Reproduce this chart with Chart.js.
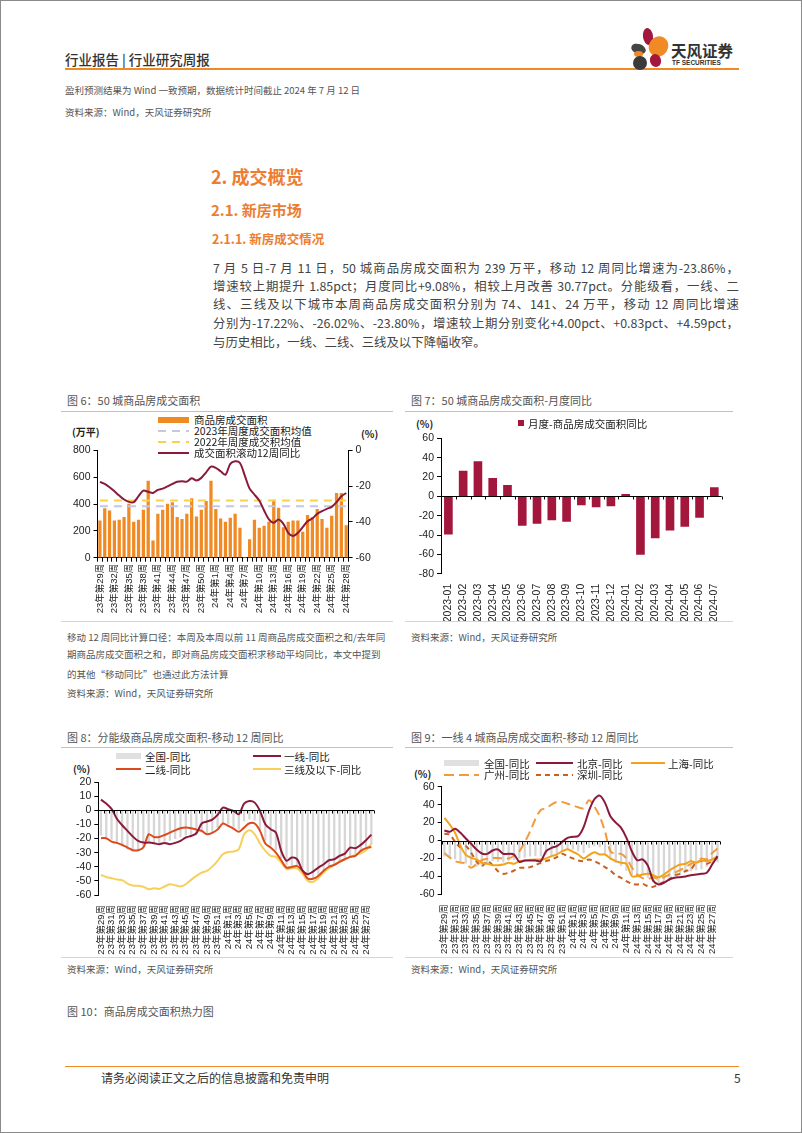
<!DOCTYPE html>
<html><head><meta charset="utf-8">
<script src="https://cdn.jsdelivr.net/npm/chart.js@4.4.1/dist/chart.umd.min.js"></script>
<style>
html,body{margin:0;padding:0}
body{width:802px;height:1133px;position:relative;background:#fff;overflow:hidden;font-family:"Noto Sans CJK SC","Noto Sans",sans-serif;box-sizing:border-box;border:1px solid #8a8a8a}
.t{position:absolute;white-space:nowrap}
.hl{position:absolute}
canvas{position:absolute}
.pl{position:absolute;left:212px;width:526px;font-size:12.4px;line-height:18px;color:#444;white-space:nowrap;text-align:justify;text-align-last:justify}
.petal{position:absolute;border-radius:50%}
</style></head>
<body>
<!-- header -->
<div class="t" style="left:64px;top:49px;font-size:13.5px;line-height:18px;font-weight:500;color:#333">行业报告 | 行业研究周报</div>
<div class="hl" style="left:64px;top:67px;width:674px;height:2px;background:#f08a24"></div>
<div class="petal" style="left:642px;top:27px;width:10px;height:17px;background:#a3173c;transform:rotate(-8deg)"></div>
<div class="petal" style="left:648px;top:35px;width:19px;height:21px;background:#f08a24;transform:rotate(35deg)"></div>
<div class="petal" style="left:630px;top:43px;width:15px;height:10px;background:#454545;transform:rotate(20deg)"></div>
<div class="petal" style="left:633px;top:50px;width:9px;height:6px;background:#f08a24"></div>
<div class="petal" style="left:632px;top:55px;width:14px;height:14px;background:#3a3a3a"></div>
<div class="petal" style="left:649px;top:53px;width:11px;height:13px;background:#a3173c;transform:rotate(-20deg)"></div>
<div class="t" style="left:670px;top:40px;font-size:15.5px;line-height:18px;font-weight:700;color:#333">天风证券</div>
<div class="t" style="left:671px;top:58px;font-size:6.5px;line-height:8px;font-weight:700;color:#333;font-family:'Liberation Sans',sans-serif">TF SECURITIES</div>
<div class="t" style="left:64px;top:82px;font-size:9.5px;line-height:14px;color:#555">盈利预测结果为 Wind 一致预期，数据统计时间截止 2024 年 7 月 12 日</div>
<div class="t" style="left:64px;top:104px;font-size:9.5px;line-height:14px;color:#555">资料来源：Wind，天风证券研究所</div>

<!-- headings -->
<div class="t" style="left:210px;top:163px;font-size:18px;line-height:24px;font-weight:700;color:#ed7d31">2. 成交概览</div>
<div class="t" style="left:210px;top:199px;font-size:15px;line-height:20px;font-weight:700;color:#ed7d31">2.1. 新房市场</div>
<div class="t" style="left:211px;top:230px;font-size:12.5px;line-height:16px;font-weight:700;color:#ed7d31">2.1.1. 新房成交情况</div>
<div class="pl" style="top:258px">7 月 5 日-7 月 11 日，50 城商品房成交面积为 239 万平，移动 12 周同比增速为-23.86%，</div>
<div class="pl" style="top:276px">增速较上期提升 1.85pct；月度同比+9.08%，相较上月改善 30.77pct。分能级看，一线、二</div>
<div class="pl" style="top:294px">线、三线及以下城市本周商品房成交面积分别为 74、141、24 万平，移动 12 周同比增速</div>
<div class="pl" style="top:313px">分别为-17.22%、-26.02%、-23.80%，增速较上期分别变化+4.00pct、+0.83pct、+4.59pct，</div>
<div class="pl" style="top:332px;text-align-last:left">与历史相比，一线、二线、三线及以下降幅收窄。</div>

<!-- chart titles -->
<div class="t" style="left:66px;top:392px;font-size:11px;line-height:15px;color:#555">图 6：50 城商品房成交面积</div>
<div class="hl" style="left:60px;top:410px;width:332px;height:1px;background:#f4b183"></div>
<div class="t" style="left:410px;top:392px;font-size:11px;line-height:15px;color:#555">图 7：50 城商品房成交面积-月度同比</div>
<div class="hl" style="left:404px;top:410px;width:328px;height:1px;background:#f4b183"></div>
<div class="t" style="left:66px;top:729px;font-size:11px;line-height:15px;color:#555">图 8：分能级商品房成交面积-移动 12 周同比</div>
<div class="hl" style="left:60px;top:746px;width:332px;height:1px;background:#f4b183"></div>
<div class="t" style="left:410px;top:729px;font-size:11px;line-height:15px;color:#555">图 9：一线 4 城商品房成交面积-移动 12 周同比</div>
<div class="hl" style="left:404px;top:746px;width:328px;height:1px;background:#f4b183"></div>

<div class="hl" style="left:60px;top:620px;width:332px;height:1px;background:#f8cbad"></div>
<div class="hl" style="left:404px;top:620px;width:328px;height:1px;background:#f8cbad"></div>
<div class="hl" style="left:60px;top:956px;width:332px;height:1px;background:#f8cbad"></div>
<div class="hl" style="left:404px;top:956px;width:328px;height:1px;background:#f8cbad"></div>

<!-- axis unit labels -->
<div class="t" style="left:71px;top:424px;font-size:10px;line-height:14px;font-weight:700;color:#222">(万平)</div>
<div class="t" style="left:360px;top:426px;font-size:10px;line-height:14px;font-weight:700;color:#222">(%)</div>
<div class="t" style="left:415px;top:416px;font-size:10px;line-height:14px;font-weight:700;color:#222">(%)</div>
<div class="t" style="left:72px;top:761px;font-size:10px;line-height:14px;font-weight:700;color:#222">(%)</div>
<div class="t" style="left:413px;top:766px;font-size:10px;line-height:14px;font-weight:700;color:#222">(%)</div>

<canvas id="c6" width="330" height="185" style="left:56px;top:440px"></canvas>
<canvas id="c7" width="330" height="195" style="left:400px;top:425px"></canvas>
<canvas id="c8" width="330" height="190" style="left:56px;top:770px"></canvas>
<canvas id="c9" width="330" height="185" style="left:400px;top:775px"></canvas>
<div id="legends"></div>

<!-- notes -->
<div class="t" style="left:66px;top:629px;font-size:9.5px;line-height:14px;color:#555">移动 12 周同比计算口径：本周及本周以前 11 周商品房成交面积之和/去年同</div>
<div class="t" style="left:66px;top:646px;font-size:9.5px;line-height:14px;color:#555">期商品房成交面积之和，即对商品房成交面积求移动平均同比，本文中提到</div>
<div class="t" style="left:66px;top:666px;font-size:9.5px;line-height:14px;color:#555">的其他“移动同比”也通过此方法计算</div>
<div class="t" style="left:66px;top:685px;font-size:9.5px;line-height:14px;color:#555">资料来源：Wind，天风证券研究所</div>
<div class="t" style="left:410px;top:629px;font-size:9.5px;line-height:14px;color:#555">资料来源：Wind，天风证券研究所</div>
<div class="t" style="left:66px;top:961px;font-size:9.5px;line-height:14px;color:#555">资料来源：Wind，天风证券研究所</div>
<div class="t" style="left:410px;top:961px;font-size:9.5px;line-height:14px;color:#555">资料来源：Wind，天风证券研究所</div>
<div class="t" style="left:66px;top:1003px;font-size:11px;line-height:15px;color:#555">图 10：商品房成交面积热力图</div>

<!-- footer -->
<div class="hl" style="left:64px;top:1065px;width:674px;height:1px;background:#f08a24"></div>
<div class="t" style="left:100px;top:1069px;font-size:12px;line-height:16px;color:#333">请务必阅读正文之后的信息披露和免责申明</div>
<div class="t" style="left:733px;top:1069px;font-size:12px;line-height:16px;color:#333">5</div>

<script>
// ---------- DATA ----------
const weekLabels = ['23年第29周','23年第30周','23年第31周','23年第32周','23年第33周','23年第34周','23年第35周','23年第36周','23年第37周','23年第38周','23年第39周','23年第40周','23年第41周','23年第42周','23年第43周','23年第44周','23年第45周','23年第46周','23年第47周','23年第48周','23年第49周','23年第50周','23年第51周','23年第52周','24年第1周','24年第2周','24年第3周','24年第4周','24年第5周','24年第6周','24年第7周','24年第8周','24年第9周','24年第10周','24年第11周','24年第12周','24年第13周','24年第14周','24年第15周','24年第16周','24年第17周','24年第18周','24年第19周','24年第20周','24年第21周','24年第22周','24年第23周','24年第24周','24年第25周','24年第26周','24年第27周','24年第28周'];
const weeklyArea = [275,365,350,275,280,300,400,265,280,355,570,125,325,355,400,410,300,285,325,440,305,355,420,570,360,290,265,295,325,220,0,135,280,220,235,265,430,370,225,265,275,275,190,315,300,360,285,220,310,480,480,239];
const avg2023 = 383;
const avg2022 = 427;
const nationalYoY = [-17.6,-18.8,-20.6,-22.9,-25.3,-27.5,-28.8,-29.0,-25.6,-22.5,-23.2,-23.8,-22.1,-21.4,-20.1,-18.8,-17.6,-17.3,-17.5,-15.6,-16.9,-15.4,-12.3,-9.1,-9.8,-11.7,-13.6,-7.6,-6.1,-7.1,-14.1,-21.4,-24.7,-28.1,-33.6,-38.6,-40.5,-38.6,-41.1,-46.1,-47.9,-46.1,-42.9,-39.6,-38.1,-35.5,-34.0,-32.7,-31.6,-29.0,-25.7,-23.86];
const monthLabels = ['2023-01','2023-02','2023-03','2023-04','2023-05','2023-06','2023-07','2023-08','2023-09','2023-10','2023-11','2023-12','2024-01','2024-02','2024-03','2024-04','2024-05','2024-06','2024-07'];
const monthlyYoY = [-39,26,36,18.6,11.4,-30,-28,-24.5,-26,-9,-11,-10,2.1,-60,-43,-35,-31,-21.69,9.08];
const tier1YoY = [7.5,4.7,1.0,-6.0,-10.6,-14.6,-18.6,-21.7,-22.9,-22.9,-23.3,-24.0,-23.1,-24.0,-23.1,-21.7,-19.3,-18.2,-16.3,-9.4,-8.0,-6.6,-3.3,1.9,0.7,-0.5,-2.8,4.7,6.6,5.4,-0.5,-9.9,-13.4,-15.8,-28.8,-35.8,-33.5,-34.7,-42.5,-45.3,-43.4,-40.6,-38.2,-35.4,-34.7,-32.3,-30.7,-26.4,-26.9,-24.5,-21.22,-17.22];
const tier2YoY = [-19.8,-19.8,-22.2,-23.1,-24.5,-26.4,-28.3,-28.3,-26.4,-17.0,-18.9,-18.9,-17.5,-15.8,-14.2,-12.7,-12.3,-12.7,-13.7,-14.6,-17.0,-16.0,-13.7,-9.4,-11.1,-13.0,-15.3,-12.3,-9.2,-9.4,-14.6,-23.6,-26.4,-30.0,-35.4,-40.6,-40.1,-39.6,-42.9,-48.3,-48.5,-46.5,-42.9,-40.0,-38.7,-36.6,-34.7,-33.0,-32.3,-28.8,-26.85,-26.02];
const tier3YoY = [-45.8,-47.2,-48.1,-49.0,-49.5,-51.9,-53.3,-53.5,-54.2,-55.9,-55.2,-55.7,-54.0,-52.4,-53.1,-54.0,-52.4,-49.3,-46.5,-44.1,-42.9,-39.9,-35.8,-31.1,-29.5,-29.2,-27.6,-17.0,-14.2,-17.0,-23.6,-28.8,-32.3,-33.0,-37.0,-41.7,-41.0,-41.3,-44.8,-50.0,-50.7,-48.1,-44.1,-41.0,-38.7,-36.3,-34.7,-33.0,-31.6,-30.5,-28.39,-23.80];
const beijingYoY = [11.2,9.7,13.0,8.6,2.2,-3.7,-10.0,-14.5,-14.9,-11.2,-10.0,-14.9,-14.9,-15.6,-23.8,-22.3,-22.3,-22.3,-23.0,-11.9,-8.2,-6.3,-1.5,3.0,4.1,5.0,15.0,33.0,46.0,50.0,42.0,27.0,20.0,14.0,3.0,-12.0,-22.0,-21.0,-28.0,-45.0,-49.0,-47.2,-43.5,-41.6,-40.9,-40.1,-38.7,-37.9,-37.2,-36.0,-26.8,-17.5];
const shanghaiYoY = [25.3,17.8,8.6,-6.0,-16.0,-19.3,-21.2,-24.9,-26.0,-27.5,-27.5,-26.8,-24.9,-26.0,-23.0,-22.3,-21.6,-21.2,-21.2,-20.0,-17.5,-15.6,-11.9,-9.7,-12.6,-15.6,-20.0,-16.4,-13.0,-15.6,-15.6,-20.0,-23.0,-24.9,-26.0,-39.8,-39.8,-37.9,-37.2,-38.7,-40.9,-37.9,-33.5,-29.7,-26.8,-26.0,-23.0,-24.9,-22.3,-23.0,-21.2,-17.5];
const guangzhouYoY = [-14,-19,-23,-24.5,-25.5,-30.5,-26,-22,-20.5,-19.5,-19.5,-20,-20,-17,-12,-2,10,24,34,36,40,43,43,41,39,37,36,45,38,27,10,-12,-15,-15,-20,-30,-38,-42,-43,-41,-43,-41,-38,-36,-33,-30,-26,-24,-20,-21,-14,-9];
const shenzhenYoY = [7.4,6.7,-1.5,-7.4,-6.3,-13.7,-23.0,-28.6,-23.0,-27.5,-34.2,-37.2,-36.0,-33.5,-30.5,-30.5,-29.7,-27.5,-24.9,-23.0,-21.2,-18.6,-14.9,-17.5,-20.0,-22.3,-23.0,-21.2,-23.0,-26.0,-29.7,-33.5,-38.7,-41.6,-45.4,-48.3,-49.0,-48.3,-50.9,-51.7,-49.0,-46.1,-43.5,-38.7,-37.2,-34.2,-32.3,-24.9,-23.0,-26.0,-23.0,-19.3];

// ---------- STYLE ----------
const C = {orange:'#f08a24', maroon:'#8b1a3a', crimson:'#a3173c', lav:'#c4c8e4', yellow:'#f8d347', red2:'#dc4a1e', yel3:'#f7d05c', gray:'#d6d6d6', sh:'#f5a21b', gz:'#f39a3c', sz:'#c8601e'};
Chart.defaults.font.family = '"Liberation Sans","Noto Sans CJK SC",sans-serif';
Chart.defaults.color = '#222';
Chart.defaults.animation = false;
Chart.defaults.responsive = false;
Chart.defaults.plugins.legend.display = false;
Chart.defaults.plugins.tooltip.enabled = false;
Chart.defaults.elements.point.radius = 0;

function yAxis(min, max, step, width, pos){
  return {position: pos || 'left', min, max,
    ticks:{stepSize:step, autoSkip:false, font:{size:10.5}, color:'#222', padding:3},
    grid:{drawOnChartArea:false, drawTicks:true, tickLength:4, color:'#000', tickColor:'#000'},
    border:{display:true, color:'#000', width:1},
    afterFit(s){ s.width = width; }};
}
function xAxis(labels, every, height, fontSize, opts){
  return Object.assign({
    ticks:{autoSkip:false, minRotation:90, maxRotation:90, font:{size:fontSize}, color:'#222', padding:2,
      callback(v, i){ return i % every === 0 ? labels[i] : ''; }},
    grid:{drawOnChartArea:false, drawTicks:true, tickLength:4, color:'#000', offset:true},
    border:{display:true, color:'#000'},
    afterFit(s){ s.height = height; }}, opts || {});
}
const zeroLine = {
  id:'zeroLine',
  afterDatasetsDraw(chart, args, o){
    if(!o || !o.on) return;
    const xs = chart.scales.x, ys = chart.scales.y, ctx = chart.ctx;
    const y0 = Math.round(ys.getPixelForValue(0)) + 0.5;
    const n = xs.ticks.length, w = (xs.right - xs.left) / n;
    ctx.save(); ctx.strokeStyle = '#000'; ctx.lineWidth = 1; ctx.beginPath();
    ctx.moveTo(xs.left, y0); ctx.lineTo(xs.right, y0);
    for(let i = 0; i <= n; i++){ const px = Math.round(xs.getPixelForValue(0) - w/2 + i*w) + 0.5; ctx.moveTo(px, y0); ctx.lineTo(px, y0 + o.len); }
    ctx.stroke(); ctx.restore();
  }
};
Chart.register(zeroLine);

// ---------- Chart 6 ----------
new Chart(document.getElementById('c6'), {
  type:'bar',
  data:{labels:weekLabels, datasets:[
    {type:'line', label:'成交面积滚动12周同比', data:nationalYoY, yAxisID:'y1', borderColor:C.maroon, borderWidth:2, tension:0.3, order:1},
    {type:'line', label:'2022年周度成交积均值', data:weekLabels.map(() => avg2022), borderColor:C.yellow, borderWidth:2, borderDash:[8,6], order:2},
    {type:'line', label:'2023年周度成交面积均值', data:weekLabels.map(() => avg2023), borderColor:C.lav, borderWidth:2, borderDash:[8,6], order:3},
    {type:'bar', label:'商品房成交面积', data:weeklyArea, backgroundColor:C.orange, barThickness:2.6, order:4}
  ]},
  options:{layout:{padding:{top:9, right:0, left:0, bottom:0}},
    scales:{x:xAxis(weekLabels, 3, 68.3, 9.5), y:yAxis(0, 800, 200, 40.5), y1:yAxis(-60, 0, 20, 38.4, 'right')}}
});

// ---------- Chart 7 ----------
new Chart(document.getElementById('c7'), {
  type:'bar',
  data:{labels:monthLabels, datasets:[{label:'月度-商品房成交面积同比', data:monthlyYoY, backgroundColor:C.crimson, barThickness:8}]},
  options:{layout:{padding:{top:12.3, right:9.3, left:0, bottom:0}},
    plugins:{zeroLine:{on:true, len:3}},
    scales:{x:xAxis(monthLabels, 1, 47.3, 10.5, {grid:{display:false}, border:{display:false}}), y:yAxis(-80, 60, 20, 40)}}
});

// ---------- Chart 8 ----------
new Chart(document.getElementById('c8'), {
  type:'bar',
  data:{labels:weekLabels, datasets:[
    {type:'line', label:'一线-同比', data:tier1YoY, borderColor:C.maroon, borderWidth:2, tension:0.3, order:1},
    {type:'line', label:'二线-同比', data:tier2YoY, borderColor:C.red2, borderWidth:2, tension:0.3, order:2},
    {type:'line', label:'三线及以下-同比', data:tier3YoY, borderColor:C.yel3, borderWidth:2, tension:0.3, order:3},
    {type:'bar', label:'全国-同比', data:nationalYoY, backgroundColor:C.gray, barThickness:1.6, order:10}
  ]},
  options:{layout:{padding:{top:11, right:13, left:0, bottom:0}},
    plugins:{zeroLine:{on:true, len:3}},
    scales:{x:xAxis(weekLabels, 2, 66, 9.5, {grid:{display:false}, border:{display:false}}), y:yAxis(-60, 20, 10, 41.3)}}
});

// ---------- Chart 9 ----------
new Chart(document.getElementById('c9'), {
  type:'bar',
  data:{labels:weekLabels, datasets:[
    {type:'line', label:'北京-同比', data:beijingYoY, borderColor:C.maroon, borderWidth:2, tension:0.3, order:1},
    {type:'line', label:'上海-同比', data:shanghaiYoY, borderColor:C.sh, borderWidth:2, tension:0.3, order:2},
    {type:'line', label:'广州-同比', data:guangzhouYoY, borderColor:C.gz, borderWidth:2, borderDash:[9,5], tension:0.3, order:3},
    {type:'line', label:'深圳-同比', data:shenzhenYoY, borderColor:C.sz, borderWidth:2, borderDash:[5,4], tension:0.3, order:4},
    {type:'bar', label:'全国-同比', data:nationalYoY, backgroundColor:C.gray, barThickness:1.6, order:10}
  ]},
  options:{layout:{padding:{top:10.7, right:10, left:0, bottom:0}},
    plugins:{zeroLine:{on:true, len:3}},
    scales:{x:xAxis(weekLabels, 2, 66.7, 9.5, {grid:{display:false}, border:{display:false}}), y:yAxis(-60, 60, 20, 40.7)}}
});

// ---------- HTML legends ----------
const L = document.getElementById('legends');
function legend(x, y, w, kind, color, text, dash, tx){
  let sw;
  if(kind === 'rect'){
    sw = document.createElement('div');
    sw.style.cssText = `position:absolute;left:${x}px;top:${y-3}px;width:${w}px;height:6px;background:${color}`;
  } else if(kind === 'sq'){
    sw = document.createElement('div');
    sw.style.cssText = `position:absolute;left:${x}px;top:${y-3}px;width:6px;height:6px;background:${color}`;
  } else {
    sw = document.createElementNS('http://www.w3.org/2000/svg','svg');
    sw.setAttribute('width', w); sw.setAttribute('height', 4);
    sw.style.cssText = `position:absolute;left:${x}px;top:${y-2}px`;
    sw.innerHTML = `<line x1="0" y1="2" x2="${w}" y2="2" stroke="${color}" stroke-width="2" ${dash ? `stroke-dasharray="${dash}"` : ''}/>`;
  }
  L.appendChild(sw);
  const t = document.createElement('div');
  t.className = 't';
  t.style.cssText += `left:${tx}px;top:${y-7.5}px;font-size:10.5px;line-height:15px;color:#222`;
  t.textContent = text;
  L.appendChild(t);
}
legend(157, 418.5, 31, 'rect', C.orange, '商品房成交面积', null, 193);
legend(157, 429.5, 31, 'line', C.lav, '2023年周度成交面积均值', '8,6', 193);
legend(157, 440.5, 31, 'line', C.yellow, '2022年周度成交积均值', '8,6', 193);
legend(157, 451.5, 31, 'line', C.maroon, '成交面积滚动12周同比', null, 193);

legend(517, 422, 6, 'sq', C.crimson, '月度-商品房成交面积同比', null, 527);

legend(115, 755, 25, 'rect', '#e0e0e0', '全国-同比', null, 144);
legend(252, 755, 28, 'line', C.maroon, '一线-同比', null, 283);
legend(115, 768, 25, 'line', C.red2, '二线-同比', null, 144);
legend(252, 768, 28, 'line', C.yel3, '三线及以下-同比', null, 283);

legend(443, 762, 35, 'rect', '#e0e0e0', '全国-同比', null, 483);
legend(535, 762, 37, 'line', C.maroon, '北京-同比', null, 576);
legend(630, 762, 34, 'line', C.sh, '上海-同比', null, 667);
legend(443, 773.5, 35, 'line', C.gz, '广州-同比', '10,5', 483);
legend(535, 773.5, 37, 'line', C.sz, '深圳-同比', '5,4', 576);
</script>
</body></html>
